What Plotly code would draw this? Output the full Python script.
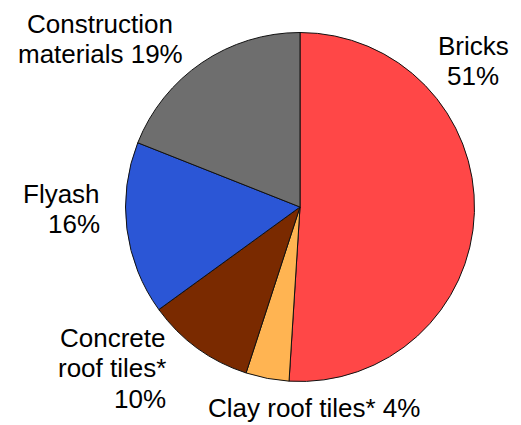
import plotly.graph_objects as go

# ---- data ----
categories = ["Bricks", "Clay roof tiles*", "Concrete roof tiles*", "Flyash", "Construction materials"]
values = [51, 4, 10, 16, 19]
colors = ["#FF4747", "#FFB452", "#7A2A00", "#2B56D6", "#6E6E6E"]

pct = [f"{v}%" for v in values]
label_lines = [
    ["Bricks", pct[0]],
    [f"Clay roof tiles* {pct[1]}"],
    ["Concrete", "roof tiles*", pct[2]],
    ["Flyash", pct[3]],
    ["Construction", f"materials {pct[4]}"],
]

# ---- layout helpers (pixel -> paper) ----
W, H = 521, 425
cx, cy, r = 300, 207, 174.5


def px(x):
    return x / W


def py(y):
    return 1 - y / H


# label placement: (anchor x px, first baseline px, xanchor)
label_pos = [
    (473, 55, "center"),
    (314, 417, "center"),
    (168, 347, "right"),
    (102, 203, "right"),
    (100, 33, "center"),
]
line_gap = 30.5
fsize = 26

fig = go.Figure(
    go.Pie(
        labels=categories,
        values=values,
        sort=False,
        direction="clockwise",
        rotation=0,
        marker=dict(colors=colors, line=dict(color="#111111", width=1)),
        textinfo="none",
        hoverinfo="label+percent",
        domain=dict(x=[px(cx - r), px(cx + r)], y=[py(cy + r), py(cy - r)]),
        showlegend=False,
    )
)

annotations = []
for lines, (ax, by, xa) in zip(label_lines, label_pos):
    for i, t in enumerate(lines):
        base = by + i * line_gap
        annotations.append(
            dict(
                x=px(ax), y=py(base - 0.35 * fsize),
                xref="paper", yref="paper",
                text=t, showarrow=False,
                xanchor=xa, yanchor="middle",
                font=dict(family="Liberation Sans, Arial, sans-serif", size=fsize, color="#000000"),
            )
        )

fig.update_layout(
    width=W, height=H,
    margin=dict(l=0, r=0, t=0, b=0),
    paper_bgcolor="white",
    plot_bgcolor="white",
    annotations=annotations,
)

fig.write_html(
    "out.html",
    config={"displayModeBar": False},
    post_script="document.body.style.margin='0';document.body.style.overflow='hidden';",
)
